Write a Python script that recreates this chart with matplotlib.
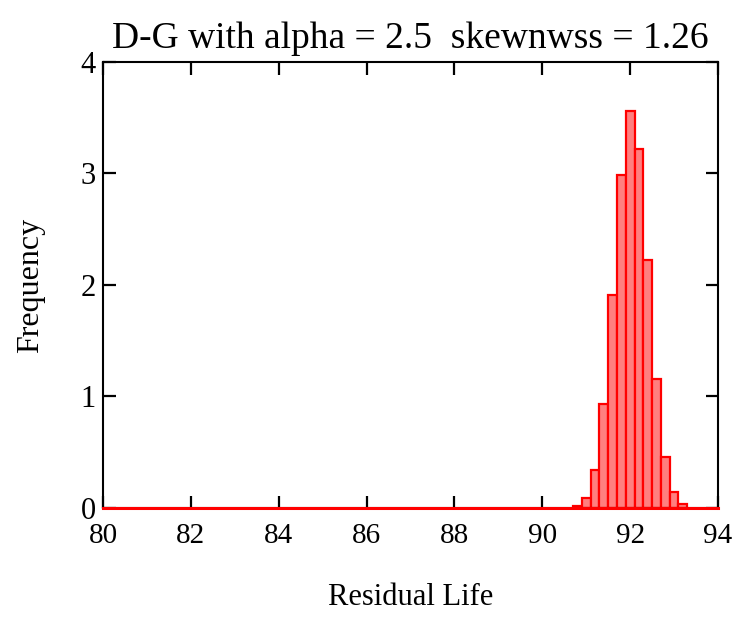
import matplotlib.pyplot as plt

# histogram of residual life (bin edges and heights)
bin_left = [90.7, 90.9, 91.1, 91.3, 91.5, 91.7, 91.9, 92.1, 92.3, 92.5, 92.7, 92.9, 93.1]
freq = [0.015, 0.09, 0.34, 0.93, 1.91, 2.99, 3.56, 3.22, 2.22, 1.16, 0.46, 0.14, 0.036]
bin_width = 0.2

x_ticks = [80, 82, 84, 86, 88, 90, 92, 94]
y_ticks = [0, 1, 2, 3, 4]

plt.rcParams['font.family'] = ['Liberation Serif', 'DejaVu Serif']

fig = plt.figure(figsize=(7.43, 6.18), dpi=100)
ax = fig.add_axes([0.1386, 0.178, 0.8278, 0.7217])

ax.bar(bin_left, freq, width=bin_width, align='edge',
       color='#ff7f7f', edgecolor='red', linewidth=1.6, zorder=2)
ax.plot([80, 94], [0, 0], color='red', linewidth=2.2, zorder=3, clip_on=False)

ax.set_xlim(80, 94)
ax.set_ylim(0, 4)
ax.set_xticks(x_ticks)
ax.set_yticks(y_ticks)
ax.tick_params(direction='in', length=9, width=1.6, labelsize=22,
               top=True, right=True)
ax.tick_params(axis='x', pad=11, labelsize=21)
ax.tick_params(axis='y', pad=5)
for s in ax.spines.values():
    s.set_linewidth(1.5)

ax.set_title('D-G with alpha = 2.5  skewnwss = 1.26', fontsize=27, pad=10)
ax.set_xlabel('Residual Life', fontsize=22, labelpad=24)
ax.set_ylabel('Frequency', fontsize=23, labelpad=26)

fig.savefig('out.png', dpi=100)
